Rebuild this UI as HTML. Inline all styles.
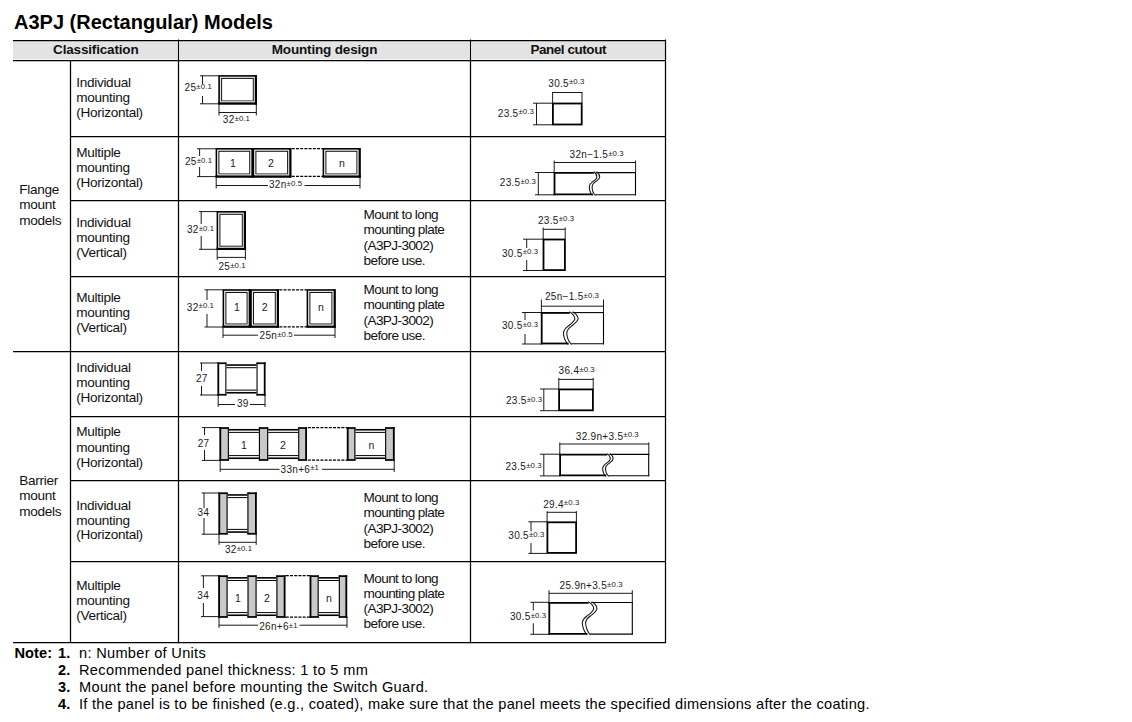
<!DOCTYPE html>
<html><head><meta charset="utf-8">
<style>
html,body{margin:0;padding:0;background:#fff;width:1132px;height:722px;overflow:hidden}
svg{position:absolute;left:0;top:0;display:block}
text{font-family:"Liberation Sans",sans-serif}
</style></head>
<body>
<svg width="1132" height="722" viewBox="0 0 1132 722">
<rect x="0" y="0" width="1132" height="722" fill="#fff"/>
<rect x="13" y="41.3" width="651.5" height="18" stroke="none" stroke-width="0" fill="#e3e3e3" />
<line x1="178.5" y1="41" x2="178.5" y2="59.4" stroke="#fff" stroke-width="3.0" />
<line x1="470.5" y1="41" x2="470.5" y2="59.4" stroke="#fff" stroke-width="3.0" />
<line x1="13" y1="40.5" x2="665.6" y2="40.5" stroke="#000" stroke-width="1.25" />
<line x1="13" y1="60.5" x2="665.6" y2="60.5" stroke="#000" stroke-width="1.25" />
<line x1="70" y1="136.5" x2="665.6" y2="136.5" stroke="#000" stroke-width="1.25" />
<line x1="70" y1="200.5" x2="665.6" y2="200.5" stroke="#000" stroke-width="1.25" />
<line x1="70" y1="276.5" x2="665.6" y2="276.5" stroke="#000" stroke-width="1.25" />
<line x1="70" y1="416.5" x2="665.6" y2="416.5" stroke="#000" stroke-width="1.25" />
<line x1="70" y1="480.5" x2="665.6" y2="480.5" stroke="#000" stroke-width="1.25" />
<line x1="70" y1="561.5" x2="665.6" y2="561.5" stroke="#000" stroke-width="1.25" />
<line x1="13" y1="351.5" x2="665.6" y2="351.5" stroke="#000" stroke-width="1.25" />
<line x1="13" y1="642.5" x2="665.6" y2="642.5" stroke="#000" stroke-width="1.25" />
<line x1="70.5" y1="60" x2="70.5" y2="643" stroke="#000" stroke-width="1.25" />
<line x1="178.5" y1="39.6" x2="178.5" y2="643.2" stroke="#000" stroke-width="1.25" />
<line x1="470.5" y1="39.6" x2="470.5" y2="643.2" stroke="#000" stroke-width="1.25" />
<line x1="665.5" y1="39.6" x2="665.5" y2="643.2" stroke="#000" stroke-width="1.25" />
<text x="14" y="29" font-size="20" font-weight="700" fill="#000" >A3PJ (Rectangular) Models</text>
<text x="95.8" y="54" font-size="13.5" font-weight="700" text-anchor="middle" letter-spacing="-0.17" fill="#111" >Classification</text>
<text x="324.5" y="54" font-size="13.5" font-weight="700" text-anchor="middle" letter-spacing="-0.17" fill="#111" >Mounting design</text>
<text x="568.2" y="54" font-size="13.5" font-weight="700" text-anchor="middle" letter-spacing="-0.45" fill="#111" >Panel cutout</text>
<text x="76.2" y="86.8" font-size="13.6" letter-spacing="-0.3" fill="#111" >Individual</text>
<text x="76.2" y="101.8" font-size="13.6" letter-spacing="-0.3" fill="#111" >mounting</text>
<text x="76.2" y="116.8" font-size="13.6" letter-spacing="-0.3" fill="#111" >(Horizontal)</text>
<text x="76.2" y="156.6" font-size="13.6" letter-spacing="-0.3" fill="#111" >Multiple</text>
<text x="76.2" y="171.6" font-size="13.6" letter-spacing="-0.3" fill="#111" >mounting</text>
<text x="76.2" y="186.5" font-size="13.6" letter-spacing="-0.3" fill="#111" >(Horizontal)</text>
<text x="76.2" y="226.6" font-size="13.6" letter-spacing="-0.3" fill="#111" >Individual</text>
<text x="76.2" y="241.7" font-size="13.6" letter-spacing="-0.3" fill="#111" >mounting</text>
<text x="76.2" y="256.8" font-size="13.6" letter-spacing="-0.3" fill="#111" >(Vertical)</text>
<text x="76.2" y="301.6" font-size="13.6" letter-spacing="-0.3" fill="#111" >Multiple</text>
<text x="76.2" y="316.7" font-size="13.6" letter-spacing="-0.3" fill="#111" >mounting</text>
<text x="76.2" y="332.0" font-size="13.6" letter-spacing="-0.3" fill="#111" >(Vertical)</text>
<text x="76.2" y="371.6" font-size="13.6" letter-spacing="-0.3" fill="#111" >Individual</text>
<text x="76.2" y="387.0" font-size="13.6" letter-spacing="-0.3" fill="#111" >mounting</text>
<text x="76.2" y="402.3" font-size="13.6" letter-spacing="-0.3" fill="#111" >(Horizontal)</text>
<text x="76.2" y="436.4" font-size="13.6" letter-spacing="-0.3" fill="#111" >Multiple</text>
<text x="76.2" y="451.6" font-size="13.6" letter-spacing="-0.3" fill="#111" >mounting</text>
<text x="76.2" y="466.6" font-size="13.6" letter-spacing="-0.3" fill="#111" >(Horizontal)</text>
<text x="76.2" y="509.5" font-size="13.6" letter-spacing="-0.3" fill="#111" >Individual</text>
<text x="76.2" y="524.5" font-size="13.6" letter-spacing="-0.3" fill="#111" >mounting</text>
<text x="76.2" y="539.4" font-size="13.6" letter-spacing="-0.3" fill="#111" >(Horizontal)</text>
<text x="76.2" y="590.3" font-size="13.6" letter-spacing="-0.3" fill="#111" >Multiple</text>
<text x="76.2" y="605.3" font-size="13.6" letter-spacing="-0.3" fill="#111" >mounting</text>
<text x="76.2" y="620.2" font-size="13.6" letter-spacing="-0.3" fill="#111" >(Vertical)</text>
<text x="19.3" y="193.6" font-size="13.6" letter-spacing="-0.3" fill="#111" >Flange</text>
<text x="19.3" y="209.1" font-size="13.6" letter-spacing="-0.3" fill="#111" >mount</text>
<text x="19.3" y="224.5" font-size="13.6" letter-spacing="-0.3" fill="#111" >models</text>
<text x="19.3" y="484.7" font-size="13.6" letter-spacing="-0.3" fill="#111" >Barrier</text>
<text x="19.3" y="500.3" font-size="13.6" letter-spacing="-0.3" fill="#111" >mount</text>
<text x="19.3" y="515.8" font-size="13.6" letter-spacing="-0.3" fill="#111" >models</text>
<text x="363.5" y="218.7" font-size="13.6" letter-spacing="-0.6" fill="#111" >Mount to long</text>
<text x="363.5" y="233.8" font-size="13.6" letter-spacing="-0.6" fill="#111" >mounting plate</text>
<text x="363.5" y="249.8" font-size="13.6" letter-spacing="-0.6" fill="#111" >(A3PJ-3002)</text>
<text x="363.5" y="264.6" font-size="13.6" letter-spacing="-0.6" fill="#111" >before use.</text>
<text x="363.5" y="294.4" font-size="13.6" letter-spacing="-0.6" fill="#111" >Mount to long</text>
<text x="363.5" y="309.3" font-size="13.6" letter-spacing="-0.6" fill="#111" >mounting plate</text>
<text x="363.5" y="324.7" font-size="13.6" letter-spacing="-0.6" fill="#111" >(A3PJ-3002)</text>
<text x="363.5" y="340.1" font-size="13.6" letter-spacing="-0.6" fill="#111" >before use.</text>
<text x="363.5" y="501.5" font-size="13.6" letter-spacing="-0.6" fill="#111" >Mount to long</text>
<text x="363.5" y="516.5" font-size="13.6" letter-spacing="-0.6" fill="#111" >mounting plate</text>
<text x="363.5" y="532.6" font-size="13.6" letter-spacing="-0.6" fill="#111" >(A3PJ-3002)</text>
<text x="363.5" y="547.5" font-size="13.6" letter-spacing="-0.6" fill="#111" >before use.</text>
<text x="363.5" y="582.9" font-size="13.6" letter-spacing="-0.6" fill="#111" >Mount to long</text>
<text x="363.5" y="597.7" font-size="13.6" letter-spacing="-0.6" fill="#111" >mounting plate</text>
<text x="363.5" y="612.6" font-size="13.6" letter-spacing="-0.6" fill="#111" >(A3PJ-3002)</text>
<text x="363.5" y="627.8" font-size="13.6" letter-spacing="-0.6" fill="#111" >before use.</text>
<text x="14.5" y="657.8" font-size="14.6" font-weight="700" letter-spacing="0.05" fill="#000" >Note:</text>
<text x="58" y="657.8" font-size="14.6" font-weight="700" letter-spacing="0.05" fill="#000" >1.</text>
<text x="79" y="657.8" font-size="14.6" letter-spacing="0.3" fill="#000" >n: Number of Units</text>
<text x="58" y="674.8" font-size="14.6" font-weight="700" letter-spacing="0.05" fill="#000" >2.</text>
<text x="79" y="674.8" font-size="14.6" letter-spacing="0.33" fill="#000" >Recommended panel thickness: 1 to 5 mm</text>
<text x="58" y="691.5" font-size="14.6" font-weight="700" letter-spacing="0.05" fill="#000" >3.</text>
<text x="79" y="691.5" font-size="14.6" letter-spacing="0.31" fill="#000" >Mount the panel before mounting the Switch Guard.</text>
<text x="58" y="708.6" font-size="14.6" font-weight="700" letter-spacing="0.05" fill="#000" >4.</text>
<text x="79" y="708.6" font-size="14.6" letter-spacing="0.28" fill="#000" >If the panel is to be finished (e.g., coated), make sure that the panel meets the specified dimensions after the coating.</text>
<rect x="219.10000000000002" y="75.89999999999999" width="37.09999999999999" height="27.70000000000001" stroke="#000" stroke-width="1.6" fill="none" />
<line x1="218.3" y1="103.2" x2="257" y2="103.2" stroke="#000" stroke-width="2.4" />
<line x1="255.8" y1="75.1" x2="255.8" y2="104.4" stroke="#000" stroke-width="2.4" />
<rect x="220.60000000000002" y="77.39999999999999" width="34.09999999999999" height="24.70000000000001" stroke="#d8d8d8" stroke-width="0.6" fill="none" />
<rect x="221.60000000000002" y="78.39999999999999" width="31.69999999999999" height="22.30000000000001" stroke="#111" stroke-width="1.0" fill="none" />
<line x1="222.10000000000002" y1="100.5" x2="252.8" y2="100.5" stroke="#8a8a8a" stroke-width="0.9" />
<line x1="200" y1="75.8" x2="219" y2="75.8" stroke="#000" stroke-width="0.9" />
<line x1="200" y1="103.8" x2="219" y2="103.8" stroke="#000" stroke-width="0.9" />
<line x1="202.5" y1="75.8" x2="202.5" y2="84" stroke="#000" stroke-width="0.9" />
<line x1="202.5" y1="96" x2="202.5" y2="103.8" stroke="#000" stroke-width="0.9" />
<text x="184.6" y="91" fill="#1a1a1a"><tspan font-size="10" letter-spacing="0.3">25</tspan><tspan font-size="7.8" letter-spacing="0.1" dy="-2.1">±0.1</tspan></text>
<line x1="219" y1="104" x2="219" y2="115.5" stroke="#000" stroke-width="0.9" />
<line x1="256.3" y1="104" x2="256.3" y2="115.5" stroke="#000" stroke-width="0.9" />
<line x1="219" y1="112.5" x2="256.3" y2="112.5" stroke="#000" stroke-width="0.9" />
<text x="222.8" y="123" fill="#1a1a1a"><tspan font-size="10" letter-spacing="0.3">32</tspan><tspan font-size="7.8" letter-spacing="0.1" dy="-2.1">±0.1</tspan></text>
<rect x="216.4" y="148.8" width="36.20000000000001" height="27.9" stroke="#000" stroke-width="1.6" fill="none" />
<line x1="215.6" y1="176.3" x2="253.4" y2="176.3" stroke="#000" stroke-width="2.4" />
<line x1="252.20000000000002" y1="148.0" x2="252.20000000000002" y2="177.5" stroke="#000" stroke-width="2.4" />
<rect x="217.9" y="150.3" width="33.20000000000001" height="24.9" stroke="#d8d8d8" stroke-width="0.6" fill="none" />
<rect x="218.9" y="151.3" width="30.80000000000001" height="22.5" stroke="#111" stroke-width="1.0" fill="none" />
<line x1="219.4" y1="173.6" x2="249.20000000000002" y2="173.6" stroke="#8a8a8a" stroke-width="0.9" />
<rect x="253.4" y="148.8" width="37.100000000000016" height="27.9" stroke="#000" stroke-width="1.6" fill="none" />
<line x1="252.6" y1="176.3" x2="291.3" y2="176.3" stroke="#000" stroke-width="2.4" />
<line x1="290.1" y1="148.0" x2="290.1" y2="177.5" stroke="#000" stroke-width="2.4" />
<rect x="254.9" y="150.3" width="34.100000000000016" height="24.9" stroke="#d8d8d8" stroke-width="0.6" fill="none" />
<rect x="255.9" y="151.3" width="31.700000000000017" height="22.5" stroke="#111" stroke-width="1.0" fill="none" />
<line x1="256.4" y1="173.6" x2="287.1" y2="173.6" stroke="#8a8a8a" stroke-width="0.9" />
<rect x="323.40000000000003" y="148.8" width="36.4" height="27.9" stroke="#000" stroke-width="1.6" fill="none" />
<line x1="322.6" y1="176.3" x2="360.6" y2="176.3" stroke="#000" stroke-width="2.4" />
<line x1="359.40000000000003" y1="148.0" x2="359.40000000000003" y2="177.5" stroke="#000" stroke-width="2.4" />
<rect x="324.90000000000003" y="150.3" width="33.4" height="24.9" stroke="#d8d8d8" stroke-width="0.6" fill="none" />
<rect x="325.90000000000003" y="151.3" width="31.0" height="22.5" stroke="#111" stroke-width="1.0" fill="none" />
<line x1="326.40000000000003" y1="173.6" x2="356.40000000000003" y2="173.6" stroke="#8a8a8a" stroke-width="0.9" />
<line x1="291.8" y1="148.7" x2="323" y2="148.7" stroke="#000" stroke-width="1.25" stroke-dasharray="3,1.2"/>
<line x1="291.8" y1="176.4" x2="323" y2="176.4" stroke="#000" stroke-width="1.25" stroke-dasharray="3,1.2"/>
<line x1="197" y1="148.8" x2="216" y2="148.8" stroke="#000" stroke-width="0.9" />
<line x1="197" y1="176.6" x2="216" y2="176.6" stroke="#000" stroke-width="0.9" />
<line x1="199.6" y1="148.8" x2="199.6" y2="156" stroke="#000" stroke-width="0.9" />
<line x1="199.6" y1="167" x2="199.6" y2="176.6" stroke="#000" stroke-width="0.9" />
<text x="185" y="165" fill="#1a1a1a"><tspan font-size="10" letter-spacing="0.3">25</tspan><tspan font-size="7.8" letter-spacing="0.1" dy="-2.1">±0.1</tspan></text>
<line x1="216.2" y1="176.5" x2="216.2" y2="188.5" stroke="#000" stroke-width="0.9" />
<line x1="360" y1="176.5" x2="360" y2="188.5" stroke="#000" stroke-width="0.9" />
<line x1="216.2" y1="185.5" x2="268" y2="185.5" stroke="#000" stroke-width="0.9" />
<line x1="304.5" y1="185.5" x2="360" y2="185.5" stroke="#000" stroke-width="0.9" />
<text x="269" y="188.3" fill="#1a1a1a"><tspan font-size="10" letter-spacing="0.3">32n</tspan><tspan font-size="7.8" letter-spacing="0.1" dy="-2.1">±0.5</tspan></text>
<text x="233" y="167.3" font-size="10.5" text-anchor="middle" fill="#1a1a1a" >1</text>
<text x="271" y="167.3" font-size="10.5" text-anchor="middle" fill="#1a1a1a" >2</text>
<text x="342" y="167.3" font-size="10.5" text-anchor="middle" fill="#1a1a1a" >n</text>
<rect x="217.4" y="211.8" width="27.800000000000004" height="37.4" stroke="#000" stroke-width="1.6" fill="none" />
<line x1="216.6" y1="248.8" x2="246" y2="248.8" stroke="#000" stroke-width="2.4" />
<line x1="244.8" y1="211" x2="244.8" y2="250" stroke="#000" stroke-width="2.4" />
<rect x="218.9" y="213.3" width="24.800000000000004" height="34.4" stroke="#d8d8d8" stroke-width="0.6" fill="none" />
<rect x="219.9" y="214.3" width="22.400000000000006" height="32.0" stroke="#111" stroke-width="1.0" fill="none" />
<line x1="220.4" y1="246.1" x2="241.8" y2="246.1" stroke="#8a8a8a" stroke-width="0.9" />
<line x1="199" y1="211.6" x2="217" y2="211.6" stroke="#000" stroke-width="0.9" />
<line x1="199" y1="249.3" x2="217" y2="249.3" stroke="#000" stroke-width="0.9" />
<line x1="201.2" y1="211.6" x2="201.2" y2="224" stroke="#000" stroke-width="0.9" />
<line x1="201.2" y1="236" x2="201.2" y2="249.3" stroke="#000" stroke-width="0.9" />
<text x="187" y="232.6" fill="#1a1a1a"><tspan font-size="10" letter-spacing="0.3">32</tspan><tspan font-size="7.8" letter-spacing="0.1" dy="-2.1">±0.1</tspan></text>
<line x1="217.2" y1="249.3" x2="217.2" y2="259.8" stroke="#000" stroke-width="0.9" />
<line x1="245.4" y1="249.3" x2="245.4" y2="259.8" stroke="#000" stroke-width="0.9" />
<line x1="217.2" y1="257.4" x2="245.4" y2="257.4" stroke="#000" stroke-width="0.9" />
<text x="218.5" y="269.6" fill="#1a1a1a"><tspan font-size="10" letter-spacing="0.3">25</tspan><tspan font-size="7.8" letter-spacing="0.1" dy="-2.1">±0.1</tspan></text>
<rect x="223.4" y="290.0" width="26.600000000000016" height="36.80000000000003" stroke="#000" stroke-width="1.6" fill="none" />
<line x1="222.6" y1="326.40000000000003" x2="250.8" y2="326.40000000000003" stroke="#000" stroke-width="2.4" />
<line x1="249.60000000000002" y1="289.2" x2="249.60000000000002" y2="327.6" stroke="#000" stroke-width="2.4" />
<rect x="224.9" y="291.5" width="23.600000000000016" height="33.80000000000003" stroke="#d8d8d8" stroke-width="0.6" fill="none" />
<rect x="225.9" y="292.5" width="21.200000000000017" height="31.400000000000034" stroke="#111" stroke-width="1.0" fill="none" />
<line x1="226.4" y1="323.70000000000005" x2="246.60000000000002" y2="323.70000000000005" stroke="#8a8a8a" stroke-width="0.9" />
<rect x="251.0" y="290.0" width="27.20000000000001" height="36.80000000000003" stroke="#000" stroke-width="1.6" fill="none" />
<line x1="250.2" y1="326.40000000000003" x2="279" y2="326.40000000000003" stroke="#000" stroke-width="2.4" />
<line x1="277.8" y1="289.2" x2="277.8" y2="327.6" stroke="#000" stroke-width="2.4" />
<rect x="252.5" y="291.5" width="24.20000000000001" height="33.80000000000003" stroke="#d8d8d8" stroke-width="0.6" fill="none" />
<rect x="253.5" y="292.5" width="21.80000000000001" height="31.400000000000034" stroke="#111" stroke-width="1.0" fill="none" />
<line x1="254.0" y1="323.70000000000005" x2="274.8" y2="323.70000000000005" stroke="#8a8a8a" stroke-width="0.9" />
<rect x="307.40000000000003" y="290.0" width="27.4" height="36.80000000000003" stroke="#000" stroke-width="1.6" fill="none" />
<line x1="306.6" y1="326.40000000000003" x2="335.6" y2="326.40000000000003" stroke="#000" stroke-width="2.4" />
<line x1="334.40000000000003" y1="289.2" x2="334.40000000000003" y2="327.6" stroke="#000" stroke-width="2.4" />
<rect x="308.90000000000003" y="291.5" width="24.4" height="33.80000000000003" stroke="#d8d8d8" stroke-width="0.6" fill="none" />
<rect x="309.90000000000003" y="292.5" width="22.0" height="31.400000000000034" stroke="#111" stroke-width="1.0" fill="none" />
<line x1="310.40000000000003" y1="323.70000000000005" x2="331.40000000000003" y2="323.70000000000005" stroke="#8a8a8a" stroke-width="0.9" />
<line x1="279.3" y1="289.8" x2="307" y2="289.8" stroke="#000" stroke-width="1.25" stroke-dasharray="3,1.2"/>
<line x1="279.3" y1="326.9" x2="307" y2="326.9" stroke="#000" stroke-width="1.25" stroke-dasharray="3,1.2"/>
<line x1="204.5" y1="289.8" x2="223" y2="289.8" stroke="#000" stroke-width="0.9" />
<line x1="204.5" y1="327" x2="223" y2="327" stroke="#000" stroke-width="0.9" />
<line x1="207" y1="289.8" x2="207" y2="300" stroke="#000" stroke-width="0.9" />
<line x1="207" y1="314" x2="207" y2="327" stroke="#000" stroke-width="0.9" />
<text x="186.8" y="310.5" fill="#1a1a1a"><tspan font-size="10" letter-spacing="0.3">32</tspan><tspan font-size="7.8" letter-spacing="0.1" dy="-2.1">±0.1</tspan></text>
<line x1="223" y1="327" x2="223" y2="338" stroke="#000" stroke-width="0.9" />
<line x1="335" y1="327" x2="335" y2="338" stroke="#000" stroke-width="0.9" />
<line x1="223" y1="335.2" x2="258" y2="335.2" stroke="#000" stroke-width="0.9" />
<line x1="294" y1="335.2" x2="335" y2="335.2" stroke="#000" stroke-width="0.9" />
<text x="259.6" y="339.4" fill="#1a1a1a"><tspan font-size="10" letter-spacing="0.3">25n</tspan><tspan font-size="7.8" letter-spacing="0.1" dy="-2.1">±0.5</tspan></text>
<text x="236.8" y="310.8" font-size="10.5" text-anchor="middle" fill="#1a1a1a" >1</text>
<text x="264.6" y="310.8" font-size="10.5" text-anchor="middle" fill="#1a1a1a" >2</text>
<text x="320.8" y="310.8" font-size="10.5" text-anchor="middle" fill="#1a1a1a" >n</text>
<line x1="226" y1="365.05" x2="257" y2="365.05" stroke="#000" stroke-width="1.6" />
<line x1="226" y1="367.7" x2="257" y2="367.7" stroke="#000" stroke-width="1.0" />
<line x1="226" y1="392.75" x2="257" y2="392.75" stroke="#000" stroke-width="1.6" />
<line x1="226" y1="390.1" x2="257" y2="390.1" stroke="#000" stroke-width="1.0" />
<rect x="217.4" y="362.4" width="9.0" height="33.200000000000045" fill="#fff" stroke="none"/>
<line x1="218.3" y1="362.4" x2="218.3" y2="395.6" stroke="#000" stroke-width="1.8" />
<line x1="225.85" y1="362.4" x2="225.85" y2="395.6" stroke="#000" stroke-width="1.1" />
<line x1="217.4" y1="363.25" x2="226.4" y2="363.25" stroke="#000" stroke-width="1.7" />
<line x1="217.4" y1="394.75" x2="226.4" y2="394.75" stroke="#000" stroke-width="1.7" />
<rect x="256.5" y="362.4" width="9.100000000000023" height="33.200000000000045" fill="#fff" stroke="none"/>
<line x1="257.05" y1="362.4" x2="257.05" y2="395.6" stroke="#000" stroke-width="1.1" />
<line x1="264.70000000000005" y1="362.4" x2="264.70000000000005" y2="395.6" stroke="#000" stroke-width="1.8" />
<line x1="256.5" y1="363.25" x2="265.6" y2="363.25" stroke="#000" stroke-width="1.7" />
<line x1="256.5" y1="394.75" x2="265.6" y2="394.75" stroke="#000" stroke-width="1.7" />
<line x1="200" y1="363" x2="218" y2="363" stroke="#000" stroke-width="0.9" />
<line x1="200" y1="395" x2="218" y2="395" stroke="#000" stroke-width="0.9" />
<line x1="201.5" y1="363" x2="201.5" y2="371" stroke="#000" stroke-width="0.9" />
<line x1="201.5" y1="386" x2="201.5" y2="395" stroke="#000" stroke-width="0.9" />
<text x="196" y="381.8" fill="#1a1a1a"><tspan font-size="10" letter-spacing="0.3">27</tspan></text>
<line x1="218.2" y1="395" x2="218.2" y2="406.9" stroke="#000" stroke-width="0.9" />
<line x1="265" y1="395" x2="265" y2="406.9" stroke="#000" stroke-width="0.9" />
<line x1="218.2" y1="404.5" x2="235" y2="404.5" stroke="#000" stroke-width="0.9" />
<line x1="250" y1="404.5" x2="265" y2="404.5" stroke="#000" stroke-width="0.9" />
<text x="236.9" y="407.4" fill="#1a1a1a"><tspan font-size="10" letter-spacing="0.3">39</tspan></text>
<line x1="228.5" y1="429.75" x2="259.5" y2="429.75" stroke="#000" stroke-width="1.6" />
<line x1="228.5" y1="432.4" x2="259.5" y2="432.4" stroke="#000" stroke-width="1.0" />
<line x1="228.5" y1="458.25" x2="259.5" y2="458.25" stroke="#000" stroke-width="1.6" />
<line x1="228.5" y1="455.6" x2="259.5" y2="455.6" stroke="#000" stroke-width="1.0" />
<line x1="267.8" y1="429.75" x2="298.8" y2="429.75" stroke="#000" stroke-width="1.6" />
<line x1="267.8" y1="432.4" x2="298.8" y2="432.4" stroke="#000" stroke-width="1.0" />
<line x1="267.8" y1="458.25" x2="298.8" y2="458.25" stroke="#000" stroke-width="1.6" />
<line x1="267.8" y1="455.6" x2="298.8" y2="455.6" stroke="#000" stroke-width="1.0" />
<line x1="355" y1="429.75" x2="385.5" y2="429.75" stroke="#000" stroke-width="1.6" />
<line x1="355" y1="432.4" x2="385.5" y2="432.4" stroke="#000" stroke-width="1.0" />
<line x1="355" y1="458.25" x2="385.5" y2="458.25" stroke="#000" stroke-width="1.6" />
<line x1="355" y1="455.6" x2="385.5" y2="455.6" stroke="#000" stroke-width="1.0" />
<rect x="219.4" y="427.2" width="9.5" height="33.60000000000002" fill="#c9c9c9" stroke="none"/>
<line x1="220.3" y1="427.2" x2="220.3" y2="460.8" stroke="#000" stroke-width="1.8" />
<line x1="228.35" y1="427.2" x2="228.35" y2="460.8" stroke="#000" stroke-width="1.1" />
<line x1="219.4" y1="428.05" x2="228.9" y2="428.05" stroke="#000" stroke-width="1.7" />
<line x1="219.4" y1="459.95" x2="228.9" y2="459.95" stroke="#000" stroke-width="1.7" />
<rect x="258.9" y="427.2" width="9.300000000000011" height="33.60000000000002" fill="#c9c9c9" stroke="none"/>
<line x1="259.45" y1="427.2" x2="259.45" y2="460.8" stroke="#000" stroke-width="1.1" />
<line x1="267.65" y1="427.2" x2="267.65" y2="460.8" stroke="#000" stroke-width="1.1" />
<line x1="258.9" y1="428.05" x2="268.2" y2="428.05" stroke="#000" stroke-width="1.7" />
<line x1="258.9" y1="459.95" x2="268.2" y2="459.95" stroke="#000" stroke-width="1.7" />
<rect x="298.2" y="427.2" width="8.800000000000011" height="33.60000000000002" fill="#c9c9c9" stroke="none"/>
<line x1="298.75" y1="427.2" x2="298.75" y2="460.8" stroke="#000" stroke-width="1.1" />
<line x1="306.1" y1="427.2" x2="306.1" y2="460.8" stroke="#000" stroke-width="1.8" />
<line x1="298.2" y1="428.05" x2="307.0" y2="428.05" stroke="#000" stroke-width="1.7" />
<line x1="298.2" y1="459.95" x2="307.0" y2="459.95" stroke="#000" stroke-width="1.7" />
<rect x="346.8" y="427.2" width="8.599999999999966" height="33.60000000000002" fill="#c9c9c9" stroke="none"/>
<line x1="347.7" y1="427.2" x2="347.7" y2="460.8" stroke="#000" stroke-width="1.8" />
<line x1="354.84999999999997" y1="427.2" x2="354.84999999999997" y2="460.8" stroke="#000" stroke-width="1.1" />
<line x1="346.8" y1="428.05" x2="355.4" y2="428.05" stroke="#000" stroke-width="1.7" />
<line x1="346.8" y1="459.95" x2="355.4" y2="459.95" stroke="#000" stroke-width="1.7" />
<rect x="385.1" y="427.2" width="9.599999999999966" height="33.60000000000002" fill="#c9c9c9" stroke="none"/>
<line x1="385.65000000000003" y1="427.2" x2="385.65000000000003" y2="460.8" stroke="#000" stroke-width="1.1" />
<line x1="393.8" y1="427.2" x2="393.8" y2="460.8" stroke="#000" stroke-width="1.8" />
<line x1="385.1" y1="428.05" x2="394.7" y2="428.05" stroke="#000" stroke-width="1.7" />
<line x1="385.1" y1="459.95" x2="394.7" y2="459.95" stroke="#000" stroke-width="1.7" />
<line x1="307.8" y1="427.6" x2="347" y2="427.6" stroke="#000" stroke-width="1.25" stroke-dasharray="3,1.2"/>
<line x1="307.8" y1="460.2" x2="347" y2="460.2" stroke="#000" stroke-width="1.25" stroke-dasharray="3,1.2"/>
<line x1="202" y1="427.6" x2="220" y2="427.6" stroke="#000" stroke-width="0.9" />
<line x1="202" y1="460.4" x2="220" y2="460.4" stroke="#000" stroke-width="0.9" />
<line x1="204.5" y1="427.6" x2="204.5" y2="435" stroke="#000" stroke-width="0.9" />
<line x1="204.5" y1="450" x2="204.5" y2="460.4" stroke="#000" stroke-width="0.9" />
<text x="197.7" y="446.5" fill="#1a1a1a"><tspan font-size="10" letter-spacing="0.3">27</tspan></text>
<line x1="220.2" y1="460.5" x2="220.2" y2="472" stroke="#000" stroke-width="0.9" />
<line x1="394.2" y1="460.5" x2="394.2" y2="472" stroke="#000" stroke-width="0.9" />
<line x1="220.2" y1="469.3" x2="279.5" y2="469.3" stroke="#000" stroke-width="0.9" />
<line x1="322" y1="469.3" x2="394.2" y2="469.3" stroke="#000" stroke-width="0.9" />
<text x="280.6" y="472.5" fill="#1a1a1a"><tspan font-size="10" letter-spacing="0.3">33n+6</tspan><tspan font-size="7.8" letter-spacing="0.1" dy="-2.1">±1</tspan></text>
<text x="243.8" y="448.6" font-size="10.5" text-anchor="middle" fill="#1a1a1a" >1</text>
<text x="283" y="448.6" font-size="10.5" text-anchor="middle" fill="#1a1a1a" >2</text>
<text x="371.5" y="448.6" font-size="10.5" text-anchor="middle" fill="#1a1a1a" >n</text>
<line x1="227" y1="494.95" x2="248" y2="494.95" stroke="#000" stroke-width="1.6" />
<line x1="227" y1="497.59999999999997" x2="248" y2="497.59999999999997" stroke="#000" stroke-width="1.0" />
<line x1="227" y1="532.0500000000001" x2="248" y2="532.0500000000001" stroke="#000" stroke-width="1.6" />
<line x1="227" y1="529.4" x2="248" y2="529.4" stroke="#000" stroke-width="1.0" />
<rect x="218.4" y="492.4" width="9.199999999999989" height="42.200000000000045" fill="#c9c9c9" stroke="none"/>
<line x1="219.3" y1="492.4" x2="219.3" y2="534.6" stroke="#000" stroke-width="1.8" />
<line x1="227.04999999999998" y1="492.4" x2="227.04999999999998" y2="534.6" stroke="#000" stroke-width="1.1" />
<line x1="218.4" y1="493.25" x2="227.6" y2="493.25" stroke="#000" stroke-width="1.7" />
<line x1="218.4" y1="533.75" x2="227.6" y2="533.75" stroke="#000" stroke-width="1.7" />
<rect x="247.4" y="492.4" width="9.400000000000006" height="42.200000000000045" fill="#c9c9c9" stroke="none"/>
<line x1="247.95000000000002" y1="492.4" x2="247.95000000000002" y2="534.6" stroke="#000" stroke-width="1.1" />
<line x1="255.9" y1="492.4" x2="255.9" y2="534.6" stroke="#000" stroke-width="1.8" />
<line x1="247.4" y1="493.25" x2="256.8" y2="493.25" stroke="#000" stroke-width="1.7" />
<line x1="247.4" y1="533.75" x2="256.8" y2="533.75" stroke="#000" stroke-width="1.7" />
<line x1="201.6" y1="493" x2="218.6" y2="493" stroke="#000" stroke-width="0.9" />
<line x1="201.6" y1="534.2" x2="218.6" y2="534.2" stroke="#000" stroke-width="0.9" />
<line x1="204" y1="493" x2="204" y2="508" stroke="#000" stroke-width="0.9" />
<line x1="204" y1="518" x2="204" y2="534.2" stroke="#000" stroke-width="0.9" />
<text x="197.6" y="515.7" fill="#1a1a1a"><tspan font-size="10" letter-spacing="0.3">34</tspan></text>
<line x1="219" y1="534.4" x2="219" y2="544.8" stroke="#000" stroke-width="0.9" />
<line x1="256.2" y1="534.4" x2="256.2" y2="544.8" stroke="#000" stroke-width="0.9" />
<line x1="219" y1="542.3" x2="256.2" y2="542.3" stroke="#000" stroke-width="0.9" />
<text x="224.9" y="553.3" fill="#1a1a1a"><tspan font-size="10" letter-spacing="0.3">32</tspan><tspan font-size="7.8" letter-spacing="0.1" dy="-2.1">±0.1</tspan></text>
<line x1="227" y1="577.8499999999999" x2="248" y2="577.8499999999999" stroke="#000" stroke-width="1.6" />
<line x1="227" y1="580.5" x2="248" y2="580.5" stroke="#000" stroke-width="1.0" />
<line x1="227" y1="615.25" x2="248" y2="615.25" stroke="#000" stroke-width="1.6" />
<line x1="227" y1="612.5999999999999" x2="248" y2="612.5999999999999" stroke="#000" stroke-width="1.0" />
<line x1="256" y1="577.8499999999999" x2="277" y2="577.8499999999999" stroke="#000" stroke-width="1.6" />
<line x1="256" y1="580.5" x2="277" y2="580.5" stroke="#000" stroke-width="1.0" />
<line x1="256" y1="615.25" x2="277" y2="615.25" stroke="#000" stroke-width="1.6" />
<line x1="256" y1="612.5999999999999" x2="277" y2="612.5999999999999" stroke="#000" stroke-width="1.0" />
<line x1="318.2" y1="577.8499999999999" x2="339.4" y2="577.8499999999999" stroke="#000" stroke-width="1.6" />
<line x1="318.2" y1="580.5" x2="339.4" y2="580.5" stroke="#000" stroke-width="1.0" />
<line x1="318.2" y1="615.25" x2="339.4" y2="615.25" stroke="#000" stroke-width="1.6" />
<line x1="318.2" y1="612.5999999999999" x2="339.4" y2="612.5999999999999" stroke="#000" stroke-width="1.0" />
<rect x="218.2" y="575.3" width="9.400000000000006" height="42.5" fill="#c9c9c9" stroke="none"/>
<line x1="219.1" y1="575.3" x2="219.1" y2="617.8" stroke="#000" stroke-width="1.8" />
<line x1="227.04999999999998" y1="575.3" x2="227.04999999999998" y2="617.8" stroke="#000" stroke-width="1.1" />
<line x1="218.2" y1="576.15" x2="227.6" y2="576.15" stroke="#000" stroke-width="1.7" />
<line x1="218.2" y1="616.9499999999999" x2="227.6" y2="616.9499999999999" stroke="#000" stroke-width="1.7" />
<rect x="247.5" y="575.3" width="9.100000000000023" height="42.5" fill="#c9c9c9" stroke="none"/>
<line x1="248.05" y1="575.3" x2="248.05" y2="617.8" stroke="#000" stroke-width="1.1" />
<line x1="256.05" y1="575.3" x2="256.05" y2="617.8" stroke="#000" stroke-width="1.1" />
<line x1="247.5" y1="576.15" x2="256.6" y2="576.15" stroke="#000" stroke-width="1.7" />
<line x1="247.5" y1="616.9499999999999" x2="256.6" y2="616.9499999999999" stroke="#000" stroke-width="1.7" />
<rect x="276.4" y="575.3" width="9.100000000000023" height="42.5" fill="#c9c9c9" stroke="none"/>
<line x1="276.95" y1="575.3" x2="276.95" y2="617.8" stroke="#000" stroke-width="1.1" />
<line x1="284.6" y1="575.3" x2="284.6" y2="617.8" stroke="#000" stroke-width="1.8" />
<line x1="276.4" y1="576.15" x2="285.5" y2="576.15" stroke="#000" stroke-width="1.7" />
<line x1="276.4" y1="616.9499999999999" x2="285.5" y2="616.9499999999999" stroke="#000" stroke-width="1.7" />
<rect x="309.6" y="575.3" width="9.099999999999966" height="42.5" fill="#c9c9c9" stroke="none"/>
<line x1="310.5" y1="575.3" x2="310.5" y2="617.8" stroke="#000" stroke-width="1.8" />
<line x1="318.15" y1="575.3" x2="318.15" y2="617.8" stroke="#000" stroke-width="1.1" />
<line x1="309.6" y1="576.15" x2="318.7" y2="576.15" stroke="#000" stroke-width="1.7" />
<line x1="309.6" y1="616.9499999999999" x2="318.7" y2="616.9499999999999" stroke="#000" stroke-width="1.7" />
<rect x="338.8" y="575.3" width="8.399999999999977" height="42.5" fill="#c9c9c9" stroke="none"/>
<line x1="339.35" y1="575.3" x2="339.35" y2="617.8" stroke="#000" stroke-width="1.1" />
<line x1="346.3" y1="575.3" x2="346.3" y2="617.8" stroke="#000" stroke-width="1.8" />
<line x1="338.8" y1="576.15" x2="347.2" y2="576.15" stroke="#000" stroke-width="1.7" />
<line x1="338.8" y1="616.9499999999999" x2="347.2" y2="616.9499999999999" stroke="#000" stroke-width="1.7" />
<line x1="285.8" y1="575.6" x2="309.8" y2="575.6" stroke="#000" stroke-width="1.25" stroke-dasharray="3,1.2"/>
<line x1="285.8" y1="617.2" x2="309.8" y2="617.2" stroke="#000" stroke-width="1.25" stroke-dasharray="3,1.2"/>
<line x1="201" y1="575.8" x2="218.6" y2="575.8" stroke="#000" stroke-width="0.9" />
<line x1="201" y1="616.6" x2="218.6" y2="616.6" stroke="#000" stroke-width="0.9" />
<line x1="203.4" y1="575.8" x2="203.4" y2="588" stroke="#000" stroke-width="0.9" />
<line x1="203.4" y1="603" x2="203.4" y2="616.6" stroke="#000" stroke-width="0.9" />
<text x="197.3" y="598.5" fill="#1a1a1a"><tspan font-size="10" letter-spacing="0.3">34</tspan></text>
<line x1="219" y1="617" x2="219" y2="627.8" stroke="#000" stroke-width="0.9" />
<line x1="347" y1="617" x2="347" y2="627.8" stroke="#000" stroke-width="0.9" />
<line x1="219" y1="625.2" x2="258.2" y2="625.2" stroke="#000" stroke-width="0.9" />
<line x1="299.5" y1="625.2" x2="347" y2="625.2" stroke="#000" stroke-width="0.9" />
<text x="259.2" y="630" fill="#1a1a1a"><tspan font-size="10" letter-spacing="0.3">26n+6</tspan><tspan font-size="7.8" letter-spacing="0.1" dy="-2.1">±1</tspan></text>
<text x="237.8" y="602" font-size="10.5" text-anchor="middle" fill="#1a1a1a" >1</text>
<text x="267" y="602" font-size="10.5" text-anchor="middle" fill="#1a1a1a" >2</text>
<text x="328.9" y="602" font-size="10.5" text-anchor="middle" fill="#1a1a1a" >n</text>
<rect x="552.9" y="103.5" width="28.800000000000022" height="21.00000000000001" stroke="#000" stroke-width="1.8" fill="none" />
<line x1="552.6" y1="92" x2="552.6" y2="103" stroke="#000" stroke-width="0.9" />
<line x1="582" y1="92" x2="582" y2="103" stroke="#000" stroke-width="0.9" />
<line x1="552.6" y1="92.5" x2="582" y2="92.5" stroke="#000" stroke-width="0.9" />
<text x="548.3" y="86.5" fill="#1a1a1a"><tspan font-size="10" letter-spacing="0.3">30.5</tspan><tspan font-size="7.8" letter-spacing="0.1" dy="-2.1">±0.3</tspan></text>
<line x1="533" y1="103.2" x2="552" y2="103.2" stroke="#000" stroke-width="0.9" />
<line x1="533" y1="124.8" x2="552" y2="124.8" stroke="#000" stroke-width="0.9" />
<line x1="536.5" y1="103.2" x2="536.5" y2="124.8" stroke="#000" stroke-width="0.9" />
<text x="497.8" y="116.5" fill="#1a1a1a"><tspan font-size="10" letter-spacing="0.3">23.5</tspan><tspan font-size="7.8" letter-spacing="0.1" dy="-2.1">±0.3</tspan></text>
<line x1="554.5" y1="172" x2="554.5" y2="195.3" stroke="#000" stroke-width="1.8" />
<line x1="553.6" y1="172.9" x2="593.9" y2="172.9" stroke="#000" stroke-width="1.8" />
<line x1="553.6" y1="194.4" x2="592.9" y2="194.4" stroke="#000" stroke-width="1.8" />
<line x1="596.1" y1="172.6" x2="636" y2="172.6" stroke="#000" stroke-width="1.1" />
<line x1="595.1" y1="194.70000000000002" x2="636" y2="194.70000000000002" stroke="#000" stroke-width="1.1" />
<line x1="635.5" y1="172" x2="635.5" y2="195.3" stroke="#000" stroke-width="1.1" />
<path d="M593.60,171.80 C595.20,172.70 596.90,174.80 596.90,176.90 C596.90,179.00 595.00,179.90 593.00,181.50 C591.00,183.10 589.30,184.00 589.30,186.40 C589.30,189.64 591.00,193.90 592.60,195.50" fill="none" stroke="#111" stroke-width="1.05"/>
<path d="M596.40,171.80 C598.00,172.70 599.70,174.80 599.70,176.90 C599.70,179.00 597.80,179.90 595.80,181.50 C593.80,183.10 592.10,184.00 592.10,186.40 C592.10,189.64 593.80,193.90 595.40,195.50" fill="none" stroke="#111" stroke-width="1.05"/>
<line x1="554.2" y1="160.5" x2="554.2" y2="172" stroke="#000" stroke-width="0.9" />
<line x1="635.6" y1="160.5" x2="635.6" y2="172" stroke="#000" stroke-width="0.9" />
<line x1="554.2" y1="162.5" x2="635.6" y2="162.5" stroke="#000" stroke-width="0.9" />
<text x="569.6" y="157.7" fill="#1a1a1a"><tspan font-size="10" letter-spacing="0.3">32n−1.5</tspan><tspan font-size="7.8" letter-spacing="0.1" dy="-2.1">±0.3</tspan></text>
<line x1="535" y1="172.5" x2="554" y2="172.5" stroke="#000" stroke-width="0.9" />
<line x1="535" y1="194.8" x2="554" y2="194.8" stroke="#000" stroke-width="0.9" />
<line x1="538.3" y1="172.5" x2="538.3" y2="194.8" stroke="#000" stroke-width="0.9" />
<text x="499.8" y="185.8" fill="#1a1a1a"><tspan font-size="10" letter-spacing="0.3">23.5</tspan><tspan font-size="7.8" letter-spacing="0.1" dy="-2.1">±0.3</tspan></text>
<rect x="543.5" y="239.5" width="21.39999999999993" height="30.600000000000005" stroke="#000" stroke-width="1.8" fill="none" />
<line x1="543.2" y1="227.5" x2="543.2" y2="239" stroke="#000" stroke-width="0.9" />
<line x1="565.2" y1="227.5" x2="565.2" y2="239" stroke="#000" stroke-width="0.9" />
<line x1="543.2" y1="229.3" x2="565.2" y2="229.3" stroke="#000" stroke-width="0.9" />
<text x="538" y="223.5" fill="#1a1a1a"><tspan font-size="10" letter-spacing="0.3">23.5</tspan><tspan font-size="7.8" letter-spacing="0.1" dy="-2.1">±0.3</tspan></text>
<line x1="523" y1="239.2" x2="543" y2="239.2" stroke="#000" stroke-width="0.9" />
<line x1="523" y1="270.5" x2="543" y2="270.5" stroke="#000" stroke-width="0.9" />
<line x1="526.7" y1="239.2" x2="526.7" y2="248" stroke="#000" stroke-width="0.9" />
<line x1="526.7" y1="260" x2="526.7" y2="270.5" stroke="#000" stroke-width="0.9" />
<text x="502" y="256.5" fill="#1a1a1a"><tspan font-size="10" letter-spacing="0.3">30.5</tspan><tspan font-size="7.8" letter-spacing="0.1" dy="-2.1">±0.3</tspan></text>
<line x1="541.6999999999999" y1="312" x2="541.6999999999999" y2="344.4" stroke="#000" stroke-width="1.8" />
<line x1="540.8" y1="312.9" x2="569.8" y2="312.9" stroke="#000" stroke-width="1.8" />
<line x1="540.8" y1="343.5" x2="568.5999999999999" y2="343.5" stroke="#000" stroke-width="1.8" />
<line x1="572.5" y1="312.6" x2="604" y2="312.6" stroke="#000" stroke-width="1.1" />
<line x1="571.3" y1="343.79999999999995" x2="604" y2="343.79999999999995" stroke="#000" stroke-width="1.1" />
<line x1="603.5" y1="312" x2="603.5" y2="344.4" stroke="#000" stroke-width="1.1" />
<path d="M569.50,311.80 C571.50,312.80 574.90,315.90 574.90,318.50 C574.90,321.10 570.80,324.10 568.20,326.10 C565.60,328.10 563.50,329.70 563.50,333.10 C563.50,337.69 566.30,342.60 568.30,344.60" fill="none" stroke="#111" stroke-width="1.05"/>
<path d="M572.80,311.80 C574.80,312.80 578.20,315.90 578.20,318.50 C578.20,321.10 574.10,324.10 571.50,326.10 C568.90,328.10 566.80,329.70 566.80,333.10 C566.80,337.69 569.60,342.60 571.60,344.60" fill="none" stroke="#111" stroke-width="1.05"/>
<line x1="541.4" y1="299.5" x2="541.4" y2="312" stroke="#000" stroke-width="0.9" />
<line x1="603.5" y1="299.5" x2="603.5" y2="312" stroke="#000" stroke-width="0.9" />
<line x1="541.4" y1="306.2" x2="603.5" y2="306.2" stroke="#000" stroke-width="0.9" />
<text x="545" y="299.8" fill="#1a1a1a"><tspan font-size="10" letter-spacing="0.3">25n−1.5</tspan><tspan font-size="7.8" letter-spacing="0.1" dy="-2.1">±0.3</tspan></text>
<line x1="522" y1="312.5" x2="541" y2="312.5" stroke="#000" stroke-width="0.9" />
<line x1="522" y1="344" x2="541" y2="344" stroke="#000" stroke-width="0.9" />
<line x1="525" y1="312.5" x2="525" y2="320" stroke="#000" stroke-width="0.9" />
<line x1="525" y1="334" x2="525" y2="344" stroke="#000" stroke-width="0.9" />
<text x="502" y="329.4" fill="#1a1a1a"><tspan font-size="10" letter-spacing="0.3">30.5</tspan><tspan font-size="7.8" letter-spacing="0.1" dy="-2.1">±0.3</tspan></text>
<rect x="559.1" y="389.4" width="33.79999999999991" height="20.899999999999988" stroke="#000" stroke-width="1.8" fill="none" />
<line x1="558.8" y1="377.8" x2="558.8" y2="389" stroke="#000" stroke-width="0.9" />
<line x1="593.2" y1="377.8" x2="593.2" y2="389" stroke="#000" stroke-width="0.9" />
<line x1="558.8" y1="379.4" x2="593.2" y2="379.4" stroke="#000" stroke-width="0.9" />
<text x="558.6" y="373.9" fill="#1a1a1a"><tspan font-size="10" letter-spacing="0.3">36.4</tspan><tspan font-size="7.8" letter-spacing="0.1" dy="-2.1">±0.3</tspan></text>
<line x1="540" y1="389" x2="558.6" y2="389" stroke="#000" stroke-width="0.9" />
<line x1="540" y1="410.7" x2="558.6" y2="410.7" stroke="#000" stroke-width="0.9" />
<line x1="543.8" y1="389" x2="543.8" y2="410.7" stroke="#000" stroke-width="0.9" />
<text x="506" y="403.6" fill="#1a1a1a"><tspan font-size="10" letter-spacing="0.3">23.5</tspan><tspan font-size="7.8" letter-spacing="0.1" dy="-2.1">±0.3</tspan></text>
<line x1="560.1" y1="453.8" x2="560.1" y2="476.3" stroke="#000" stroke-width="1.8" />
<line x1="559.2" y1="454.7" x2="607.3" y2="454.7" stroke="#000" stroke-width="1.8" />
<line x1="559.2" y1="475.40000000000003" x2="606.3" y2="475.40000000000003" stroke="#000" stroke-width="1.8" />
<line x1="609.5" y1="454.40000000000003" x2="649.2" y2="454.40000000000003" stroke="#000" stroke-width="1.1" />
<line x1="608.5" y1="475.7" x2="649.2" y2="475.7" stroke="#000" stroke-width="1.1" />
<line x1="648.7" y1="453.8" x2="648.7" y2="476.3" stroke="#000" stroke-width="1.1" />
<path d="M607.00,453.60 C608.60,454.50 610.30,456.60 610.30,458.70 C610.30,460.80 608.40,461.70 606.40,463.30 C604.40,464.90 602.70,465.80 602.70,468.20 C602.70,471.44 604.40,474.90 606.00,476.50" fill="none" stroke="#111" stroke-width="1.05"/>
<path d="M609.80,453.60 C611.40,454.50 613.10,456.60 613.10,458.70 C613.10,460.80 611.20,461.70 609.20,463.30 C607.20,464.90 605.50,465.80 605.50,468.20 C605.50,471.44 607.20,474.90 608.80,476.50" fill="none" stroke="#111" stroke-width="1.05"/>
<line x1="559.8" y1="442.5" x2="559.8" y2="454" stroke="#000" stroke-width="0.9" />
<line x1="648.8" y1="442.5" x2="648.8" y2="454" stroke="#000" stroke-width="0.9" />
<line x1="559.8" y1="444" x2="648.8" y2="444" stroke="#000" stroke-width="0.9" />
<text x="575.8" y="439.5" fill="#1a1a1a"><tspan font-size="10" letter-spacing="0.3">32.9n+3.5</tspan><tspan font-size="7.8" letter-spacing="0.1" dy="-2.1">±0.3</tspan></text>
<line x1="540" y1="454.2" x2="559.6" y2="454.2" stroke="#000" stroke-width="0.9" />
<line x1="540" y1="475.9" x2="559.6" y2="475.9" stroke="#000" stroke-width="0.9" />
<line x1="543.8" y1="454.2" x2="543.8" y2="475.9" stroke="#000" stroke-width="0.9" />
<text x="505.5" y="470.3" fill="#1a1a1a"><tspan font-size="10" letter-spacing="0.3">23.5</tspan><tspan font-size="7.8" letter-spacing="0.1" dy="-2.1">±0.3</tspan></text>
<rect x="547.4" y="522.3" width="28.7" height="30.599999999999977" stroke="#000" stroke-width="1.8" fill="none" />
<line x1="547.1" y1="511.2" x2="547.1" y2="522" stroke="#000" stroke-width="0.9" />
<line x1="576.4" y1="511.2" x2="576.4" y2="522" stroke="#000" stroke-width="0.9" />
<line x1="547.1" y1="512.3" x2="576.4" y2="512.3" stroke="#000" stroke-width="0.9" />
<text x="543.2" y="507.5" fill="#1a1a1a"><tspan font-size="10" letter-spacing="0.3">29.4</tspan><tspan font-size="7.8" letter-spacing="0.1" dy="-2.1">±0.3</tspan></text>
<line x1="528.4" y1="521.8" x2="547" y2="521.8" stroke="#000" stroke-width="0.9" />
<line x1="528.4" y1="553.4" x2="547" y2="553.4" stroke="#000" stroke-width="0.9" />
<line x1="531" y1="521.8" x2="531" y2="531.3" stroke="#000" stroke-width="0.9" />
<line x1="531" y1="543" x2="531" y2="553.4" stroke="#000" stroke-width="0.9" />
<text x="508.3" y="539.3" fill="#1a1a1a"><tspan font-size="10" letter-spacing="0.3">30.5</tspan><tspan font-size="7.8" letter-spacing="0.1" dy="-2.1">±0.3</tspan></text>
<line x1="549.3" y1="601.9" x2="549.3" y2="634.7" stroke="#000" stroke-width="1.8" />
<line x1="548.4" y1="602.8" x2="588.6" y2="602.8" stroke="#000" stroke-width="1.8" />
<line x1="548.4" y1="633.8000000000001" x2="587.4" y2="633.8000000000001" stroke="#000" stroke-width="1.8" />
<line x1="591.3000000000001" y1="602.5" x2="632.8" y2="602.5" stroke="#000" stroke-width="1.1" />
<line x1="590.1" y1="634.1" x2="632.8" y2="634.1" stroke="#000" stroke-width="1.1" />
<line x1="632.3" y1="601.9" x2="632.3" y2="634.7" stroke="#000" stroke-width="1.1" />
<path d="M588.30,601.70 C590.30,602.70 593.70,605.80 593.70,608.40 C593.70,611.00 589.60,614.00 587.00,616.00 C584.40,618.00 582.30,619.60 582.30,623.00 C582.30,627.59 585.10,632.90 587.10,634.90" fill="none" stroke="#111" stroke-width="1.05"/>
<path d="M591.60,601.70 C593.60,602.70 597.00,605.80 597.00,608.40 C597.00,611.00 592.90,614.00 590.30,616.00 C587.70,618.00 585.60,619.60 585.60,623.00 C585.60,627.59 588.40,632.90 590.40,634.90" fill="none" stroke="#111" stroke-width="1.05"/>
<line x1="549" y1="590.3" x2="549" y2="602.3" stroke="#000" stroke-width="0.9" />
<line x1="632.3" y1="590.3" x2="632.3" y2="602.3" stroke="#000" stroke-width="0.9" />
<line x1="549" y1="593.3" x2="632.3" y2="593.3" stroke="#000" stroke-width="0.9" />
<text x="559.6" y="588.8" fill="#1a1a1a"><tspan font-size="10" letter-spacing="0.3">25.9n+3.5</tspan><tspan font-size="7.8" letter-spacing="0.1" dy="-2.1">±0.3</tspan></text>
<line x1="530.3" y1="602.3" x2="548.8" y2="602.3" stroke="#000" stroke-width="0.9" />
<line x1="530.3" y1="634.3" x2="548.8" y2="634.3" stroke="#000" stroke-width="0.9" />
<line x1="533.3" y1="602.3" x2="533.3" y2="610.5" stroke="#000" stroke-width="0.9" />
<line x1="533.3" y1="623.3" x2="533.3" y2="634.3" stroke="#000" stroke-width="0.9" />
<text x="510" y="620.3" fill="#1a1a1a"><tspan font-size="10" letter-spacing="0.3">30.5</tspan><tspan font-size="7.8" letter-spacing="0.1" dy="-2.1">±0.3</tspan></text>
</svg>
</body></html>
